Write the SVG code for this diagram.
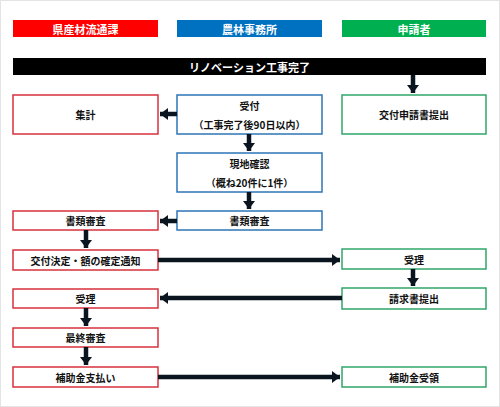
<svg xmlns="http://www.w3.org/2000/svg" width="500" height="407" viewBox="0 0 500 407">
<style>
text{font-family:"Noto Sans CJK JP","Noto Sans",sans-serif;font-size:10px;text-anchor:middle;dominant-baseline:central;fill:#111;font-weight:bold}
.hd{fill:#fff;font-size:11px}
.wt{fill:#fff;font-size:11px}
.r{fill:#fff;stroke:#d8323c;stroke-width:1.5}
.b{fill:#fff;stroke:#2e75b6;stroke-width:1.5}
.g{fill:#fff;stroke:#2fa66a;stroke-width:1.5}
.ar{stroke:#0b1520;stroke-width:4.5;fill:none}
</style>
<defs>
<marker id="ah" markerUnits="userSpaceOnUse" markerWidth="10" markerHeight="12" refX="8" refY="6" orient="auto">
<path d="M0,0 L8,6 L0,12 Z" fill="#0b1520"/>
</marker>
</defs>
<rect x="0.5" y="0.5" width="499" height="406" fill="#fff" stroke="#e4e4e4"/>
<g id="header-pref"><rect x="13" y="20" width="145" height="17" fill="#ff0000"/><text class="hd" x="85.5" y="28.5">県産材流通課</text></g>
<g id="header-office"><rect x="177" y="20" width="145" height="17" fill="#0070c0"/><text class="hd" x="249.5" y="28.5">農林事務所</text></g>
<g id="header-applicant"><rect x="342" y="20" width="144" height="17" fill="#00b050"/><text class="hd" x="414" y="28.5">申請者</text></g>
<g id="renovation"><rect x="13" y="58" width="473" height="17" fill="#000"/><text class="wt" x="249.5" y="66.5">リノベーション工事完了</text></g>
<g id="shukei"><rect class="r" x="13" y="95" width="145" height="39"/><text x="85.5" y="114.5">集計</text></g>
<g id="uketsuke"><rect class="b" x="177" y="95" width="145" height="39"/><text x="249.5" y="105">受付</text><text x="249.5" y="124">（工事完了後90日以内）</text></g>
<g id="koufu-shinsei"><rect class="g" x="342" y="95" width="144" height="39"/><text x="414" y="114.5">交付申請書提出</text></g>
<g id="genchi"><rect class="b" x="177" y="153" width="145" height="39"/><text x="249.5" y="163">現地確認</text><text x="249.5" y="182">（概ね20件に1件）</text></g>
<g id="shorui-b"><rect class="b" x="177" y="211" width="145" height="19"/><text x="249.5" y="220.5">書類審査</text></g>
<g id="shorui-r"><rect class="r" x="13" y="211" width="145" height="19"/><text x="85.5" y="220.5">書類審査</text></g>
<g id="koufu-kettei"><rect class="r" x="13" y="250" width="145" height="20"/><text x="85.5" y="260">交付決定・額の確定通知</text></g>
<g id="juri-g"><rect class="g" x="342" y="249" width="144" height="20"/><text x="414" y="259">受理</text></g>
<g id="seikyu"><rect class="g" x="342" y="288" width="144" height="21"/><text x="414" y="298.5">請求書提出</text></g>
<g id="juri-r"><rect class="r" x="13" y="289" width="145" height="19"/><text x="85.5" y="298.5">受理</text></g>
<g id="saishu"><rect class="r" x="13" y="328" width="145" height="19"/><text x="85.5" y="337.5">最終審査</text></g>
<g id="shiharai"><rect class="r" x="13" y="367" width="145" height="20"/><text x="85.5" y="377">補助金支払い</text></g>
<g id="juryo"><rect class="g" x="342" y="367" width="144" height="20"/><text x="414" y="377">補助金受領</text></g>
<g id="connectors">
<line class="ar" x1="413" y1="75" x2="413" y2="93" marker-end="url(#ah)"/>
<line class="ar" x1="177" y1="114" x2="160" y2="114" marker-end="url(#ah)"/>
<line class="ar" x1="249" y1="134" x2="249" y2="151" marker-end="url(#ah)"/>
<line class="ar" x1="249" y1="192" x2="249" y2="209" marker-end="url(#ah)"/>
<line class="ar" x1="177" y1="221" x2="160" y2="221" marker-end="url(#ah)"/>
<line class="ar" x1="86" y1="230" x2="86" y2="248" marker-end="url(#ah)"/>
<line class="ar" x1="158" y1="260" x2="340" y2="260" marker-end="url(#ah)"/>
<line class="ar" x1="413" y1="269" x2="413" y2="286" marker-end="url(#ah)"/>
<line class="ar" x1="342" y1="298" x2="160" y2="298" marker-end="url(#ah)"/>
<line class="ar" x1="86" y1="308" x2="86" y2="326" marker-end="url(#ah)"/>
<line class="ar" x1="86" y1="347" x2="86" y2="365" marker-end="url(#ah)"/>
<line class="ar" x1="158" y1="377" x2="340" y2="377" marker-end="url(#ah)"/>
</g>
</svg>
